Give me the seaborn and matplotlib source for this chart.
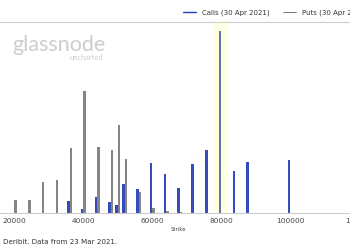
import numpy as np
import pandas as pd
import matplotlib
matplotlib.use("Agg")
import matplotlib.pyplot as plt
from matplotlib.lines import Line2D
import seaborn as sns

strikes = [20000, 24000, 28000, 32000, 36000, 40000, 44000, 48000, 50000, 52000,
           56000, 60000, 64000, 68000, 72000, 76000, 80000, 84000, 88000, 100000]
calls = [0, 0, 0, 0, 660, 220, 860, 600, 440, 1600,
         1320, 2750, 2150, 1350, 2700, 3470, 10000, 2310, 2800, 2920]
puts = [715, 715, 1705, 1815, 3560, 6710, 3630, 3465, 4840, 2970,
        1155, 275, 110, 55, 0, 0, 0, 0, 0, 0]
series_names = ["Calls (30 Apr 2021)", "Puts (30 Apr 2021)"]
xticks = [20000, 40000, 60000, 80000, 100000, 120000]

df = pd.DataFrame({
    "Strike": strikes * 2,
    "value": calls + puts,
    "type": [series_names[0]] * len(strikes) + [series_names[1]] * len(strikes),
})

sns.set_style("white")
plt.rcParams["font.family"] = ["DejaVu Sans"]

W, H = 350, 250
fig = plt.figure(figsize=(3.5, 2.5), dpi=100)

pxper = 69 / 20000.0
x0, x1 = 10000, 125000
left_px = 14.3 - (20000 - x0) * pxper
right_px = 14.3 + (x1 - 20000) * pxper
top_px, base_px = 22, 213
ax = fig.add_axes([left_px / W, 1 - base_px / H, (right_px - left_px) / W, (base_px - top_px) / H])

colors = {series_names[0]: "#1e3fd0", series_names[1]: "#858585"}
sns.barplot(data=df, x="Strike", y="value", hue="type", native_scale=True,
            palette=colors, width=0.75, linewidth=0, ax=ax, legend=False, zorder=2)

ax.axvspan(77900, 81600, color="#ffff80", alpha=0.22, lw=0, zorder=3)

ax.set_xlim(x0, x1)
ax.set_ylim(0, 191 * 55)
ax.set_xticks(xticks)
ax.set_xticklabels([str(t) for t in xticks], fontsize=5.3, color="#444444")
ax.set_yticks([])
ax.set_ylabel("")
ax.set_xlabel("Strike", fontsize=3.8, color="#444444", labelpad=2)
ax.tick_params(axis="x", length=1.5, width=0.6, color="#666666", pad=2)
for s in ["left", "right"]:
    ax.spines[s].set_visible(False)
for s in ["top", "bottom"]:
    ax.spines[s].set_color("#cccccc")
    ax.spines[s].set_linewidth(0.8)

handles = [Line2D([0], [0], color=colors[series_names[0]], lw=1.0),
           Line2D([0], [0], color="#666666", lw=0.6)]
fig.legend(handles, series_names, loc="center left", bbox_to_anchor=(183 / W, 1 - 12.5 / H),
           ncol=2, frameon=False, fontsize=5, handlelength=1.9, handletextpad=0.8,
           columnspacing=2.0, labelcolor="#333333", borderaxespad=0, borderpad=0)

fig.text(12 / W, 1 - 51 / H, "glassnode", fontsize=15.5, color="#cdcdcd",
         family=["Lato", "DejaVu Sans"], fontweight="normal", ha="left", va="baseline")
fig.text(103 / W, 1 - 60.5 / H, "uncharted", fontsize=5.4, color="#cdcdcd",
         family=["Lato", "DejaVu Sans"], fontweight="normal", ha="right", va="baseline")

fig.text(3 / W, 1 - 242 / H, "Deribit. Data from 23 Mar 2021.", fontsize=5.1,
         color="#333333", ha="left", va="center")

fig.savefig("out.png", dpi=100)
